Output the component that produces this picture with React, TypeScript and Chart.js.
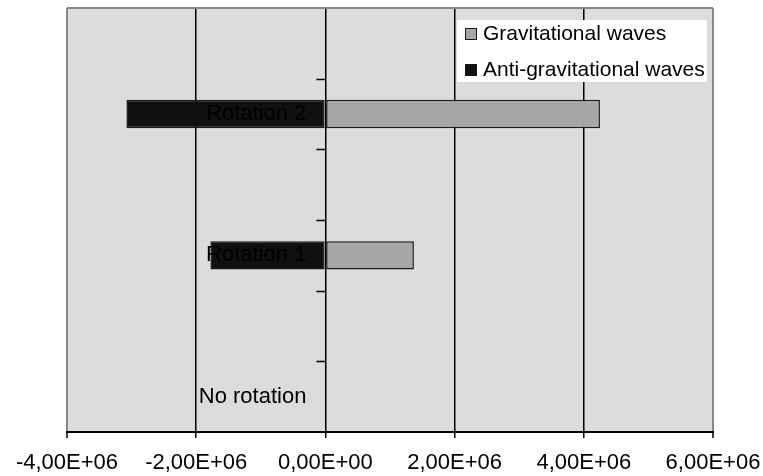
import React, { useEffect, useRef } from "react";
import { Chart, registerables } from "chart.js";

Chart.register(...registerables);

const categories = ["", "Rotation 2", "", "Rotation 1", "", "No rotation"];
const gravitationalWaves = [null, 4250000, null, 1370000, null, 0];
const antiGravitationalWaves = [null, -3080000, null, -1780000, null, 0];
const xMin = -4000000;
const xMax = 6000000;
const xStep = 2000000;

const FONT = "'Liberation Sans', Arial, sans-serif";

function formatSci(v: number): string {
  const [m, e] = Number(v).toExponential(2).split("e");
  const sign = e[0];
  const exp = e.slice(1).padStart(2, "0");
  return m.replace(".", ",") + "E" + sign + exp;
}

const plotPlugin = {
  id: "excelLook",
  beforeDraw(chart: any) {
    const { ctx, chartArea: a } = chart;
    ctx.save();
    ctx.fillStyle = "#dcdcdc";
    ctx.fillRect(a.left, a.top, a.right - a.left, a.bottom - a.top);
    ctx.restore();
  },
  beforeDatasetsDraw(chart: any) {
    const { ctx, chartArea: a, scales } = chart;
    ctx.save();
    ctx.strokeStyle = "#888888";
    ctx.lineWidth = 2;
    ctx.beginPath();
    ctx.moveTo(a.left, a.top);
    ctx.lineTo(a.right, a.top);
    ctx.stroke();
    const x0 = scales.x.getPixelForValue(0);
    const y = scales.y;
    ctx.strokeStyle = "#000";
    ctx.lineWidth = 1.5;
    for (let i = 0; i < categories.length - 1; i++) {
      const yb = Math.round((y.getPixelForValue(i) + y.getPixelForValue(i + 1)) / 2) + 0.5;
      ctx.beginPath();
      ctx.moveTo(x0 - 9, yb);
      ctx.lineTo(x0, yb);
      ctx.stroke();
    }
    ctx.restore();
  },
  afterDatasetsDraw(chart: any) {
    const { ctx, chartArea: a, scales } = chart;
    const x0 = scales.x.getPixelForValue(0);
    const y = scales.y;
    ctx.save();
    ctx.font = `22px ${FONT}`;
    ctx.fillStyle = "#000";
    ctx.textAlign = "right";
    ctx.textBaseline = "middle";
    categories.forEach((c, i) => {
      if (!c) return;
      ctx.fillText(c, x0 - 19, y.getPixelForValue(i));
    });
    const lw = 250;
    const lh = 62;
    const lx = a.right - 6 - lw;
    const ly = a.top + 12;
    ctx.fillStyle = "#ffffff";
    ctx.fillRect(lx, ly, lw, lh);
    ctx.textAlign = "left";
    ctx.font = `21px ${FONT}`;
    chart.data.datasets.forEach((ds: any, i: number) => {
      const cy = ly + 14 + i * 36;
      ctx.fillStyle = ds.backgroundColor;
      ctx.fillRect(lx + 8, cy - 6, 12, 12);
      ctx.strokeStyle = "#1a1a1a";
      ctx.lineWidth = 1;
      ctx.strokeRect(lx + 8.5, cy - 5.5, 11, 11);
      ctx.fillStyle = "#000";
      ctx.fillText(ds.label, lx + 26, cy);
    });
    ctx.restore();
  },
};

export default function App() {
  const ref = useRef<HTMLCanvasElement | null>(null);

  useEffect(() => {
    document.body.style.margin = "0";
    Chart.defaults.font.family = FONT;
    const canvas = ref.current!;
    const chart = new Chart(canvas, {
      type: "bar",
      data: {
        labels: categories,
        datasets: [
          {
            label: "Gravitational waves",
            data: gravitationalWaves as any,
            backgroundColor: "#a6a6a6",
            borderColor: "#1a1a1a",
            borderWidth: 1.5,
            borderSkipped: false,
            barPercentage: 0.4,
            categoryPercentage: 1,
          },
          {
            label: "Anti-gravitational waves",
            data: antiGravitationalWaves as any,
            backgroundColor: "#101010",
            borderColor: "#1a1a1a",
            borderWidth: 1.5,
            borderSkipped: false,
            barPercentage: 0.4,
            categoryPercentage: 1,
          },
        ],
      },
      options: {
        indexAxis: "y",
        responsive: false,
        animation: false,
        devicePixelRatio: 1,
        layout: { padding: { left: 67, right: 50, top: 8, bottom: 0 } },
        plugins: {
          legend: { display: false },
          tooltip: { enabled: false },
        },
        scales: {
          x: {
            type: "linear",
            stacked: true,
            min: xMin,
            max: xMax,
            afterFit: (scale: any) => {
              scale.height = 44;
              scale.paddingLeft = 0;
              scale.paddingRight = 0;
            },
            ticks: {
              stepSize: xStep,
              color: "#000",
              font: { size: 22, family: FONT },
              padding: 12,
              maxRotation: 0,
              callback: (v: any) => formatSci(Number(v)),
            },
            grid: {
              color: (ctx: any) => {
                const n = (xMax - xMin) / xStep;
                return ctx.index === 0 || ctx.index === n ? "#888888" : "#000000";
              },
              lineWidth: (ctx: any) => {
                const n = (xMax - xMin) / xStep;
                return ctx.index === 0 || ctx.index === n ? 2 : 1.5;
              },
              drawTicks: true,
              tickLength: 6,
              tickColor: "#000",
              tickWidth: 1.5,
            },
            border: { display: true, color: "#000", width: 2 },
          },
          y: {
            type: "category",
            stacked: true,
            display: false,
            offset: true,
            grid: { display: false },
          },
        },
      } as any,
      plugins: [plotPlugin],
    });
    return () => chart.destroy();
  }, []);

  return (
    <div style={{ position: "fixed", left: 0, top: 0, width: 763, height: 476 }}>
      <canvas ref={ref} width={763} height={476} style={{ width: 763, height: 476 }} />
    </div>
  );
}
